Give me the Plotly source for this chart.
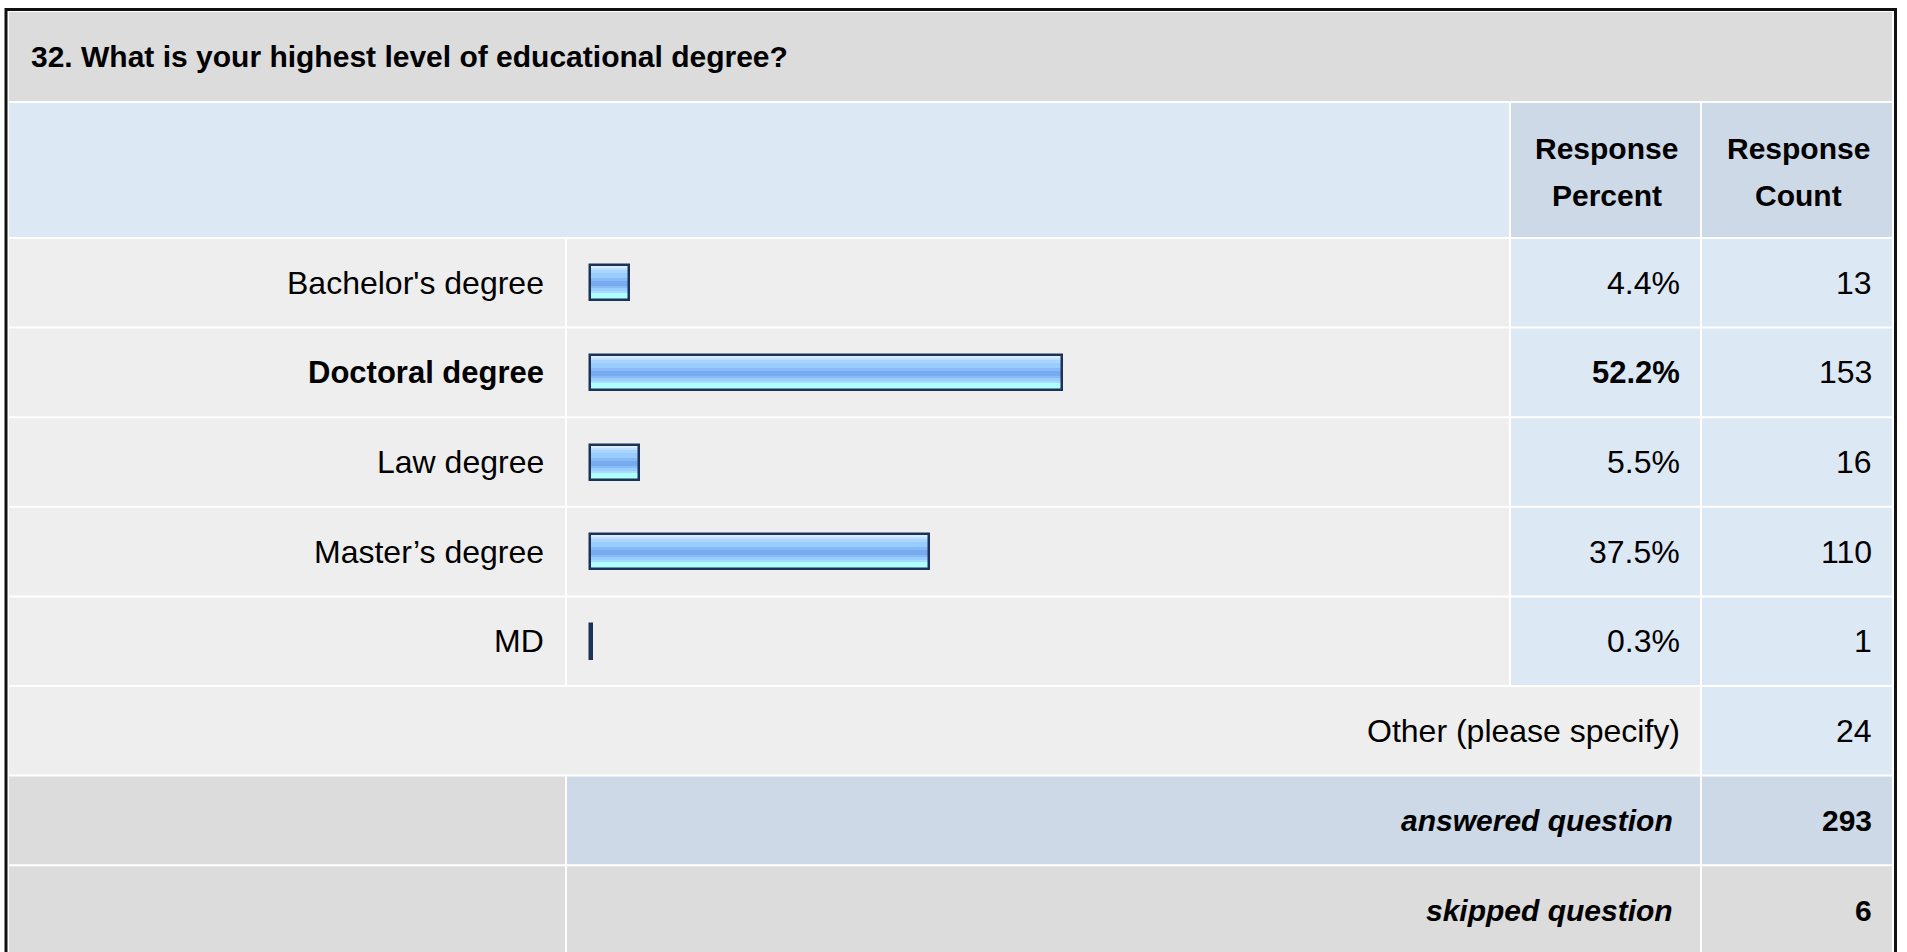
import plotly.graph_objects as go

# Survey results: question 32
question = "32. What is your highest level of educational degree?"
answer_choices = ["Bachelor's degree", "Doctoral degree", "Law degree", "Master’s degree", "MD"]
response_percent = [4.4, 52.2, 5.5, 37.5, 0.3]
response_count = [13, 153, 16, 110, 1]
other_label = "Other (please specify)"
other_count = 24
answered_question = 293
skipped_question = 6
header_percent = ["Response", "Percent"]
header_count = ["Response", "Count"]

W, H = 1907, 952
FONT = "Liberation Sans, Arial, Helvetica, sans-serif"
BODY = 32
BODY_BOLD = 31
BOLD_SIZE = 30

C_TITLE = "#dcdcdc"
C_HEAD = "#dde8f5"
C_HEAD_DARK = "#cdd9e6"
C_ROW = "#eeeeee"
C_VAL = "#dde8f5"
C_BORDER = "#1c3357"


def px(x):
    return x / W


def py(y):
    return 1 - y / H


# column edges (pixels): label | bar | percent | count
COLS = [(9, 565), (567, 1509), (1511, 1700), (1702, 1892)]
ROW_PITCH = 89.6
ROW_H = 87.6
FIRST_ROW = 239


def row_span(i):
    top = FIRST_ROW + i * ROW_PITCH
    return top, top + ROW_H


shapes = []


def cell(x0, x1, y0, y1, color):
    shapes.append(dict(type="rect", xref="paper", yref="paper",
                       x0=px(x0), x1=px(x1), y0=py(y1), y1=py(y0),
                       fillcolor=color, line=dict(width=0), layer="below"))


annotations = []


def text(s, x, y, anchor="right", bold=False, italic=False, size=None):
    if size is None:
        size = BOLD_SIZE if bold else BODY
    if bold:
        s = f"<b>{s}</b>"
    if italic:
        s = f"<i>{s}</i>"
    annotations.append(dict(text=s, xref="paper", yref="paper",
                            x=px(x), y=py(y), xanchor=anchor, yanchor="middle",
                            showarrow=False, borderpad=0,
                            font=dict(family=FONT, size=size, color="#000000")))


# title row
cell(9, 1892, 12, 101, C_TITLE)
text(question, 30, 56, anchor="left", bold=True)

# header row
cell(COLS[0][0], COLS[1][1], 103, 237, C_HEAD)
cell(*COLS[2], 103, 237, C_HEAD_DARK)
cell(*COLS[3], 103, 237, C_HEAD_DARK)
for col, lines in ((COLS[2], header_percent), (COLS[3], header_count)):
    cx = (col[0] + col[1]) / 2 + 1
    for k, line in enumerate(lines):
        text(line, cx, 148 + 48 * k, anchor="center", bold=True)

LABEL_RIGHT = COLS[0][1] - 20
VALUE_PAD = 19

# answer rows
top_idx = response_percent.index(max(response_percent))
for i, (lab, pct, cnt) in enumerate(zip(answer_choices, response_percent, response_count)):
    y0, y1 = row_span(i)
    cy = (y0 + y1) / 2
    cell(*COLS[0], y0, y1, C_ROW)
    cell(*COLS[1], y0, y1, C_ROW)
    cell(*COLS[2], y0, y1, C_VAL)
    cell(*COLS[3], y0, y1, C_VAL)
    strong = i == top_idx
    size = BODY_BOLD if strong else BODY
    text(lab, LABEL_RIGHT, cy, bold=strong, size=size)
    text(f"{pct}%", COLS[2][1] - VALUE_PAD, cy, bold=strong, size=size)
    text(str(cnt), COLS[3][1] - VALUE_PAD, cy)

# other row
n = len(answer_choices)
y0, y1 = row_span(n)
cy = (y0 + y1) / 2
cell(COLS[0][0], COLS[2][1], y0, y1, C_ROW)
cell(*COLS[3], y0, y1, C_VAL)
text(other_label, COLS[2][1] - VALUE_PAD, cy)
text(str(other_count), COLS[3][1] - VALUE_PAD, cy)

# answered / skipped summary rows
for j, (lab, val, mid_color) in enumerate((("answered question", answered_question, C_HEAD_DARK),
                                           ("skipped question", skipped_question, C_TITLE))):
    y0, y1 = row_span(n + 1 + j)
    cy = (y0 + y1) / 2
    cell(*COLS[0], y0, y1, C_TITLE)
    cell(COLS[1][0], COLS[2][1], y0, y1, mid_color)
    cell(*COLS[3], y0, y1, mid_color)
    text(lab, COLS[2][1] - 26, cy, bold=True, italic=True)
    text(str(val), COLS[3][1] - VALUE_PAD, cy, bold=True)

# outer frame
shapes.append(dict(type="rect", xref="paper", yref="paper",
                   x0=px(6), x1=px(1895.5), y0=py(975), y1=py(9.5),
                   line=dict(color="#111111", width=3), fillcolor="rgba(0,0,0,0)",
                   layer="above"))

# bars: horizontal stripes give the glossy gradient, then a dark outline
y_pos = list(range(n))
stripes = [  # (height px, colour) from top to bottom of the bar interior
    (2, "#d6ecff"), (2, "#c0e0ff"), (3, "#aad5ff"), (5, "#99ccff"),
    (3, "#88bbf6"), (5, "#77aaee"), (2, "#88bbf6"), (3, "#99ccff"),
    (2, "#a8dcff"), (6, "#b0ffff"),
]
inner_h = sum(h for h, _ in stripes)
fig = go.Figure()
off = -inner_h / 2
for h, color in stripes:
    fig.add_trace(go.Bar(x=response_percent, y=y_pos, orientation="h",
                         base=0, width=h / ROW_PITCH, offset=off / ROW_PITCH,
                         marker=dict(color=color, line=dict(width=0)),
                         hoverinfo="skip", showlegend=False))
    off += h
outline_h = inner_h + 2
fig.add_trace(go.Bar(x=response_percent, y=y_pos, orientation="h", base=0,
                     width=outline_h / ROW_PITCH, offset=-outline_h / 2 / ROW_PITCH,
                     marker=dict(color="rgba(0,0,0,0)", line=dict(color=C_BORDER, width=2.5)),
                     hoverinfo="skip", showlegend=False))

PX_PER_PCT = 9.05
ZERO_PX = 589.5
bar_col = COLS[1]
center0 = FIRST_ROW + ROW_H / 2
ydom_top = center0 - ROW_PITCH / 2
ydom_bot = center0 + (n - 1) * ROW_PITCH + ROW_PITCH / 2

fig.update_layout(
    width=W, height=H,
    margin=dict(l=0, r=0, t=0, b=0, pad=0),
    paper_bgcolor="#ffffff", plot_bgcolor="rgba(0,0,0,0)",
    barmode="overlay", bargap=0,
    shapes=shapes, annotations=annotations,
    xaxis=dict(domain=[px(bar_col[0]), px(bar_col[1])],
               range=[-(ZERO_PX - bar_col[0]) / PX_PER_PCT, (bar_col[1] - ZERO_PX) / PX_PER_PCT],
               visible=False, fixedrange=True),
    yaxis=dict(domain=[py(ydom_bot), py(ydom_top)], range=[n - 0.5, -0.5],
               visible=False, fixedrange=True),
    font=dict(family=FONT),
)

fig.write_html("out.html", config={"displayModeBar": False})
